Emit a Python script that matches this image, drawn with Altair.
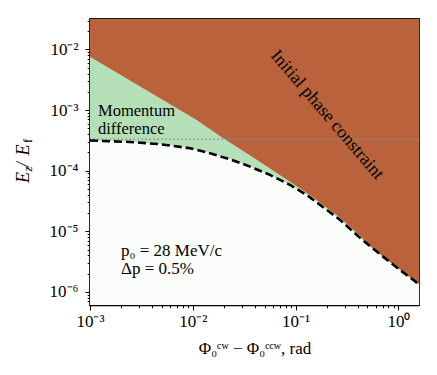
import altair as alt
import pandas as pd

# ---- axis ranges ----
x_min, x_max = 1e-3, 1.585
y_min, y_max = 6.1e-7, 3.18e-2

# ---- dashed boundary ----
dashed_x = [0.001, 0.00245, 0.0048, 0.0094, 0.0147, 0.023, 0.036, 0.0563,
            0.0882, 0.132, 0.173, 0.27, 0.423, 0.662, 1.04, 1.585]
dashed_y = [3.15e-4, 2.98e-4, 2.74e-4, 2.35e-4, 1.94e-4, 1.55e-4, 1.17e-4, 8.53e-5,
            5.84e-5, 3.84e-5, 2.73e-5, 1.55e-5, 7.81e-6, 4.18e-6, 2.30e-6, 1.34e-6]

# ---- initial phase constraint boundary ----
brown_x = [0.001, 0.01092, 0.0198, 0.0419, 0.0882, 0.138, 0.27, 0.423, 0.662, 1.04, 1.585]
brown_y = [7.58e-3, 6.87e-4, 3.43e-4, 1.51e-4, 6.61e-5, 3.99e-5, 1.70e-5, 8.43e-6,
           3.66e-6, 2.0e-6, 1.17e-6]

dotted_level = [3.3e-4]

x_major = [1e-3, 1e-2, 1e-1, 1.0]
x_major_labels = ["10⁻³", "10⁻²", "10⁻¹", "10⁰"]
y_major = [1e-6, 1e-5, 1e-4, 1e-3, 1e-2]
y_major_labels = ["10⁻⁶", "10⁻⁵", "10⁻⁴", "10⁻³", "10⁻²"]

x_ticks = [m * 10.0 ** e for e in range(-3, 1) for m in range(1, 10) if m * 10.0 ** e <= x_max]
y_ticks = [m * 10.0 ** e for e in range(-7, -1) for m in range(1, 10)
           if y_min <= m * 10.0 ** e <= y_max]

FONT = "Liberation Serif"
BROWN = "#B9623C"
GREEN = "#B5E0B7"
WHITE = "#FAFDF9"

EXP = "round(log(datum.value)/LN10)"
MAJOR = f"abs(log(datum.value)/LN10 - {EXP}) < 0.001"


def label_expr(majors, labels):
    import math
    expr = "''"
    for v, lab in zip(majors, labels):
        e = int(round(math.log10(v)))
        expr = f"({EXP} == {e} ? '{lab}' : {expr})"
    return f"{MAJOR} ? {expr} : ''"


tick_size = {"condition": {"test": MAJOR, "value": 5}, "value": 2.8}

x_axis = alt.Axis(values=x_ticks, labelExpr=label_expr(x_major, x_major_labels),
                  tickSize=tick_size, tickColor="black", tickWidth=1,
                  labelFont=FONT, labelFontSize=17, labelColor="black",
                  labelPadding=3, labelOverlap=False, labelFlush=False, labelBound=False,
                  domainColor="black", domainWidth=1.5, grid=False,
                  title="Φ₀ᶜʷ − Φ₀ᶜᶜʷ, rad", titleFont=FONT, titleFontSize=17,
                  titleFontWeight="normal", titleColor="black",
                  titleBaseline="alphabetic", titleY=48)
y_axis = alt.Axis(values=y_ticks, labelExpr=label_expr(y_major, y_major_labels),
                  tickSize=tick_size, tickColor="black", tickWidth=1,
                  labelFont=FONT, labelFontSize=17, labelColor="black",
                  labelPadding=7, labelOverlap=False, labelFlush=False, labelBound=False,
                  domainColor="black", domainWidth=1.5, grid=False, title=None)

xs = alt.Scale(type="log", domain=[x_min, x_max], nice=False)
ys = alt.Scale(type="log", domain=[y_min, y_max], nice=False)

dash_df = pd.DataFrame({"x": dashed_x, "y": dashed_y, "top": y_max, "bottom": y_min})
brown_df = pd.DataFrame({"x": brown_x, "y": brown_y, "top": y_max})
rule_df = pd.DataFrame({"y": dotted_level})
one = pd.DataFrame({"a": [0]})

X = alt.X("x:Q", scale=xs, axis=x_axis)
Y = alt.Y("y:Q", scale=ys, axis=y_axis)

green = alt.Chart(dash_df).mark_area(color=GREEN, opacity=1).encode(x=X, y=Y, y2="top:Q")
brown = alt.Chart(brown_df).mark_area(color=BROWN, opacity=1).encode(x=X, y=Y, y2="top:Q")
white = alt.Chart(dash_df).mark_area(color=WHITE, opacity=1).encode(
    x=X, y=alt.Y("bottom:Q", scale=ys, axis=y_axis), y2="y:Q")
rule = alt.Chart(rule_df).mark_rule(color="#8c8c8c", strokeWidth=1.4,
                                    strokeDash=[1.5, 2.5]).encode(y=Y)
dashed = alt.Chart(dash_df).mark_line(color="black", strokeWidth=2.6,
                                      strokeDash=[8, 4]).encode(x=X, y=Y)


def txt(text, x, y, size=17, style="normal", angle=0, align="left", baseline="alphabetic"):
    return alt.Chart(one).mark_text(text=text, font=FONT, fontSize=size, fontStyle=style,
                                    angle=angle, align=align, baseline=baseline,
                                    color="black").encode(x=alt.value(x), y=alt.value(y))


texts = [
    txt("Momentum", 8, 97, size=16.5),
    txt("difference", 8, 115, size=16.5),
    txt("Initial phase constraint", 237, 96, size=18, angle=49.5, align="center",
        baseline="middle"),
    txt("p₀ = 28 MeV/c", 31, 237),
    txt("Δp = 0.5%", 31, 255),
    # y-axis title E_z / E_f
    txt("E", -61.5, 164, size=18, style="italic", angle=270),
    txt("z", -58.5, 152.5, size=12.5, style="italic", angle=270),
    txt("/", -61.5, 148, size=18, style="italic", angle=270),
    txt("E", -61.5, 136.5, size=18, style="italic", angle=270),
    txt("f", -58.5, 124, size=12.5, angle=270),
]

chart = alt.layer(green, brown, white, rule, dashed, *texts).properties(
    width=329, height=286, autosize="none",
    padding={"left": 82, "top": 11, "right": 10, "bottom": 62},
    background="white",
).configure_view(stroke="#1a1a1a", strokeWidth=1.8)

chart.save("out.html", embed_options={"renderer": "svg", "actions": False})
